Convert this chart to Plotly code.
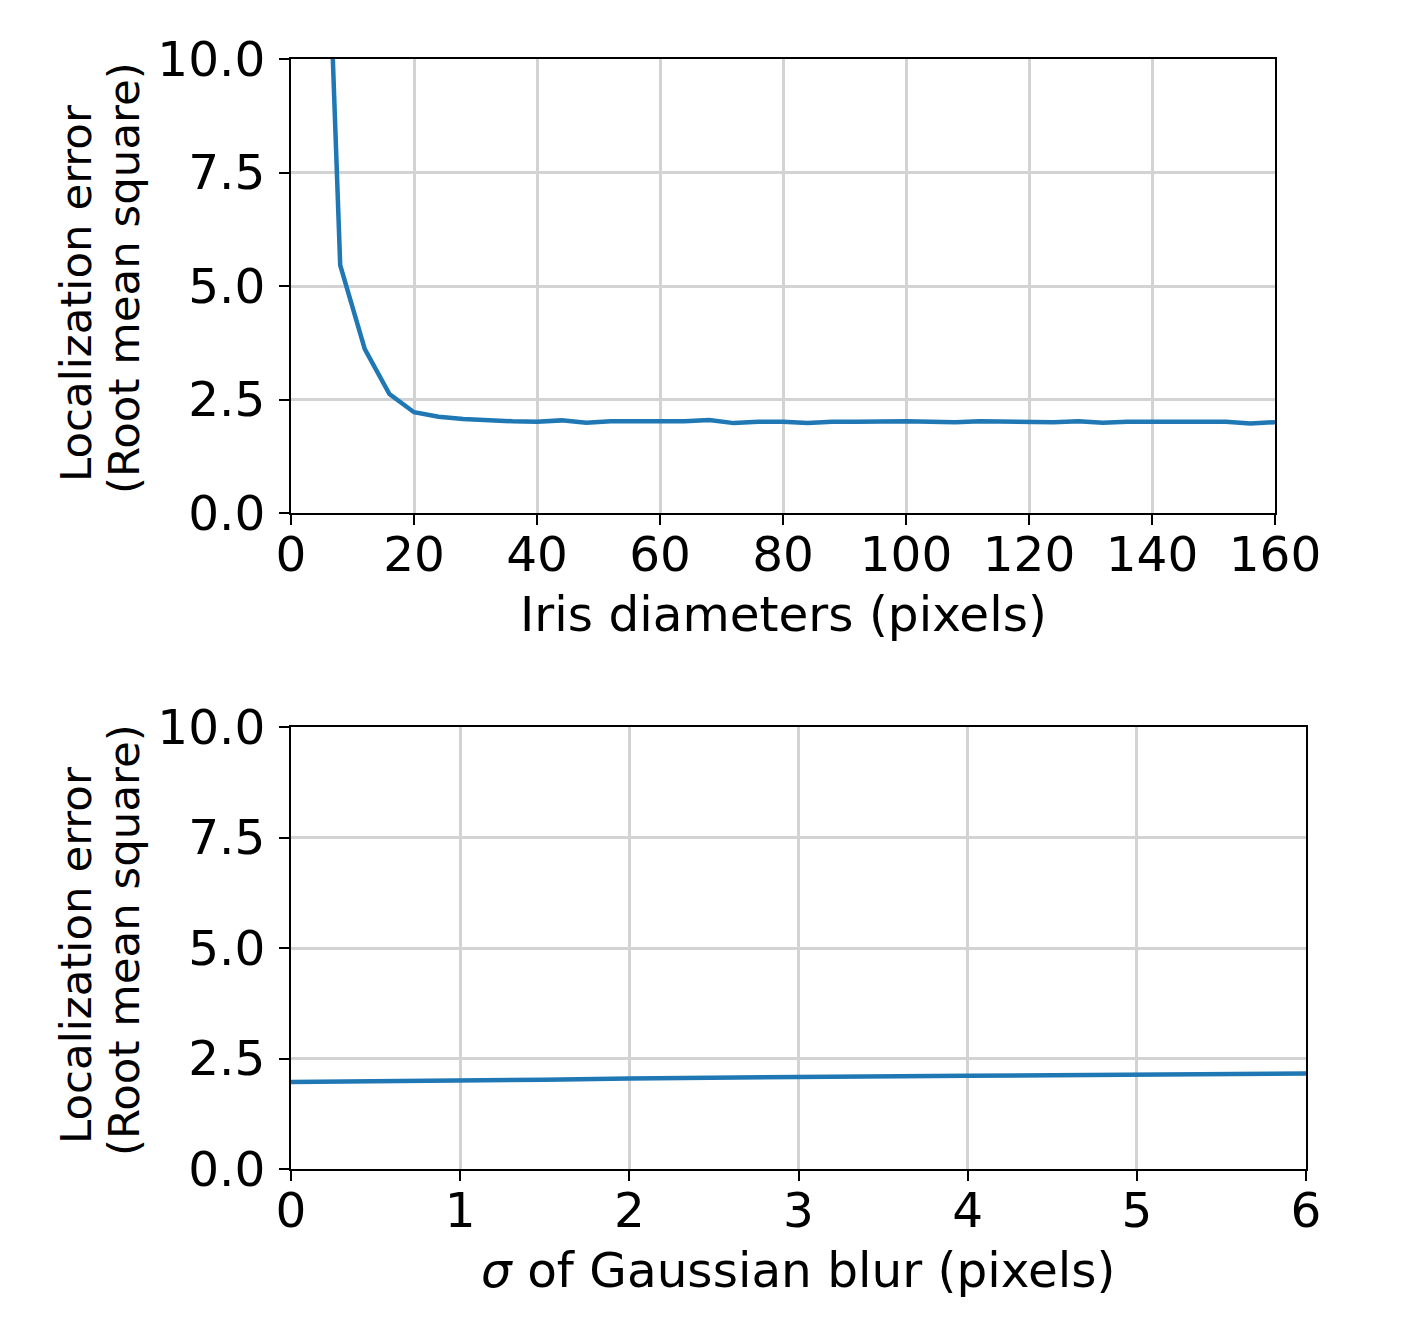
import plotly.graph_objects as go

# --- data ---

iris_diameter = [4, 8, 12, 16, 20, 24, 28, 32, 36, 40, 44, 48, 52, 56, 60, 64, 68, 72, 76, 80,
                 84, 88, 92, 96, 100, 104, 108, 112, 116, 120, 124, 128, 132, 136, 140, 144,
                 148, 152, 156, 160]
iris_error = [20.6, 5.46, 3.61, 2.62, 2.22, 2.12, 2.07, 2.04, 2.02, 2.01, 2.04, 1.99, 2.02, 2.02,
              2.02, 2.02, 2.05, 1.98, 2.01, 2.01, 1.98, 2.01, 2.01, 2.02, 2.02, 2.01, 2.00, 2.02,
              2.01, 2.01, 2.00, 2.02, 1.99, 2.01, 2.01, 2.01, 1.99, 2.01, 1.97, 2.00]

blur_sigma = [0, 0.5, 1, 1.5, 2, 2.5, 3, 3.5, 4, 4.5, 5, 5.5, 6]
blur_error = [1.97, 1.98, 1.99, 2.02, 2.05, 2.07, 2.09, 2.10, 2.11, 2.12, 2.13, 2.14, 2.16]

y_ticks = [0, 2.5, 5, 7.5, 10]
y_title_lines = ["Localization error", "(Root mean square)"]
x_titles = ["Iris diameters (pixels)", "<i>σ</i> of Gaussian blur (pixels)"]

# page has an 8px body margin, so the figure is a bit smaller than the window
PAGE_OFF = 8
W, H = 1413 - PAGE_OFF, 1343 - PAGE_OFF
FONT = "DejaVu Sans"
FS = 48.5
FS_YTITLE = 43.5
LINE = "#1f77b4"


def px_x(v):
    # page pixel -> paper fraction
    return (v - PAGE_OFF) / W


def px_y(v):
    return 1 - (v - PAGE_OFF) / H


fig = go.Figure()
fig.add_trace(go.Scatter(x=iris_diameter, y=iris_error, mode="lines",
                         line=dict(color=LINE, width=4.5), xaxis="x", yaxis="y"))
fig.add_trace(go.Scatter(x=blur_sigma, y=blur_error, mode="lines",
                         line=dict(color=LINE, width=4.5), xaxis="x2", yaxis="y2"))

axis_style = dict(
    showline=True, linecolor="black", linewidth=2, mirror=True,
    ticks="outside", ticklen=10, tickwidth=2, tickcolor="black",
    showgrid=True, gridcolor="#d3d3d3", gridwidth=2.5,
    zeroline=False, automargin=False,
    tickfont=dict(family=FONT, size=FS, color="black"),
)
x_style = dict(axis_style, ticklabelstandoff=-12)
y_style = dict(axis_style, ticklabelstandoff=4, range=[0, 10], tickvals=y_ticks, tickformat=".1f")

fig.update_layout(
    width=W, height=H,
    margin=dict(l=0, r=0, t=0, b=0),
    paper_bgcolor="white", plot_bgcolor="white",
    showlegend=False,
    font=dict(family=FONT, size=FS, color="black"),
    xaxis=dict(x_style, domain=[px_x(291), px_x(1275)], range=[0, 160], dtick=20, anchor="y"),
    yaxis=dict(y_style, domain=[px_y(513), px_y(59)], anchor="x"),
    xaxis2=dict(x_style, domain=[px_x(291), px_x(1306)], range=[0, 6], dtick=1, anchor="y2"),
    yaxis2=dict(y_style, domain=[px_y(1169), px_y(727)], anchor="x2"),
)

# axis titles as annotations so they sit where the reference puts them
for text, cx, cy in [(x_titles[0], 783, 614), (x_titles[1], 798, 1270)]:
    fig.add_annotation(text=text, xref="paper", yref="paper", x=px_x(cx), y=px_y(cy),
                       xanchor="center", yanchor="middle", showarrow=False,
                       font=dict(family=FONT, size=FS, color="black"))

for plot_mid in [286, 948]:
    for text, cx, dy in [(y_title_lines[0], 76, 8), (y_title_lines[1], 124, -8)]:
        fig.add_annotation(text=text, xref="paper", yref="paper", x=px_x(cx), y=px_y(plot_mid + dy),
                           xanchor="center", yanchor="middle", textangle=-90, showarrow=False,
                           font=dict(family=FONT, size=FS_YTITLE, color="black"))

fig.write_html("out.html")
